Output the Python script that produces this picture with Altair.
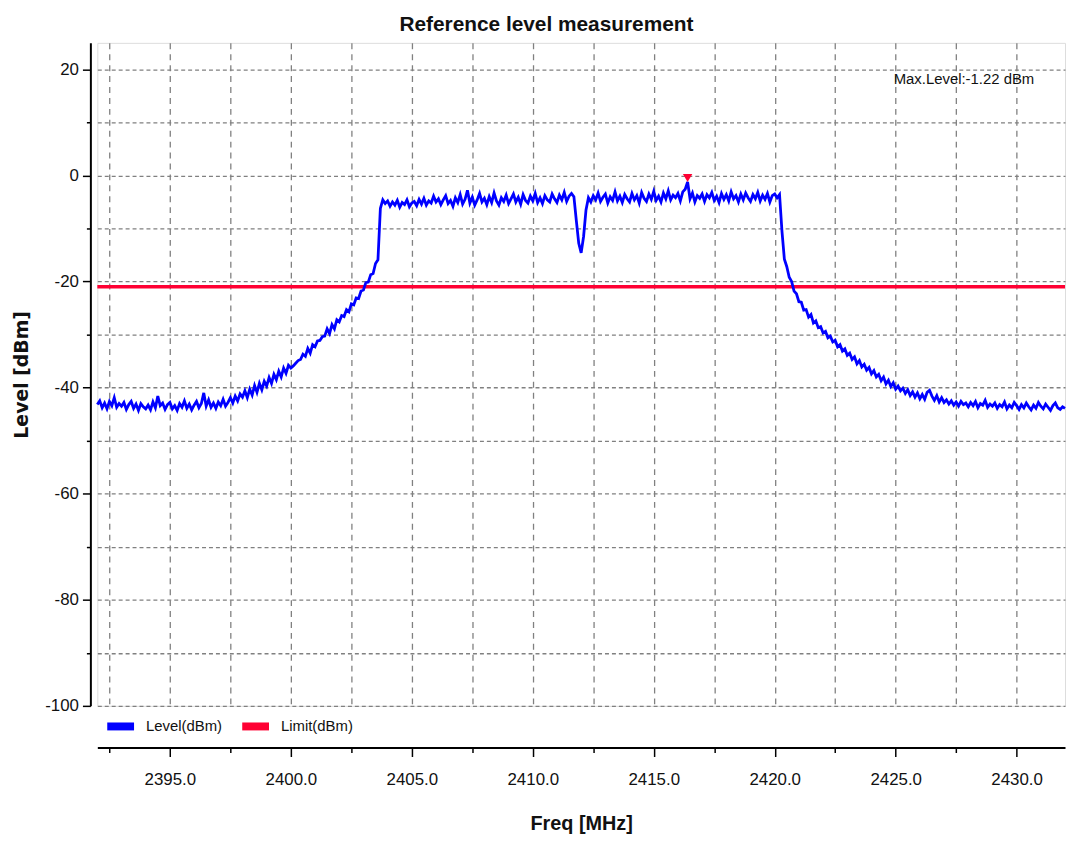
import altair as alt
import pandas as pd
import numpy as np

# ---------------- data ----------------
F_START = 2392.0   # first sweep frequency [MHz]
F_STEP = 0.1       # sweep step [MHz]

level = [
    # 2392
    -43.2, -42.5, -43.8, -42.9, -44.0, -42.6, -43.4, -41.9, -43.7, -43.0,
    # 2393
    -43.5, -42.8, -44.1, -43.2, -42.6, -43.9, -43.1, -44.3, -43.0, -43.6,
    # 2394
    -44.0, -43.3, -44.2, -42.7, -43.8, -41.6, -43.4, -42.9, -44.1, -43.2,
    # 2395
    -42.8, -44.0, -43.4, -44.3, -43.0, -43.7, -42.5, -43.9, -43.1, -44.2,
    # 2396
    -43.3, -42.6, -43.8, -43.0, -41.0, -43.5, -42.3, -43.7, -42.9, -43.9,
    # 2397
    -42.7, -43.4, -42.2, -43.5, -42.8, -41.9, -42.9, -41.6, -42.5, -41.2,
    # 2398
    -41.8, -40.6, -41.9, -40.3, -41.4, -39.6, -40.9, -39.2, -40.4, -38.8,
    # 2399
    -39.7, -38.1, -39.2, -37.5, -38.5, -36.9, -38.0, -36.3, -37.3, -35.8,
    # 2400
    -36.3, -35.9, -35.4, -34.9, -34.7, -33.7, -34.1, -32.6, -33.5, -31.9,
    # 2401
    -32.3, -31.2, -31.1, -30.4, -30.3, -28.9, -29.8, -28.1, -28.9, -27.2,
    # 2402
    -27.6, -26.4, -26.6, -25.3, -25.7, -24.2, -24.4, -23.1, -23.2, -21.8,
    # 2403
    -21.6, -20.2, -20.1, -18.7, -18.5, -16.6, -15.9, -6.2, -4.6, -5.3,
    # 2404
    -4.8, -5.8, -5.0, -5.6, -4.7, -6.0, -5.1, -5.5, -4.6, -5.9,
    # 2405
    -5.2, -4.9, -5.7, -4.5, -5.4, -4.3, -5.6, -4.8, -5.2, -3.9,
    # 2406
    -5.0, -4.4, -5.5, -4.6, -3.8, -5.3, -4.7, -5.8, -4.2, -5.1,
    # 2407
    -3.6, -5.4, -4.5, -2.8, -5.2, -4.1, -5.6, -4.6, -3.4, -5.0,
    # 2408
    -4.3, -5.5, -4.0, -5.1, -3.3, -4.8, -5.6, -4.2, -4.9, -3.7,
    # 2409
    -5.3, -4.4, -3.5, -5.0, -4.1, -5.4, -3.6, -4.7, -5.2, -3.9,
    # 2410
    -4.8, -3.4, -5.1, -4.2, -5.3, -3.8, -4.6, -5.0, -3.5, -4.4,
    # 2411
    -5.1, -3.7, -4.6, -3.2, -4.9, -3.9, -3.4, -4.0, -8.5, -12.8,
    # 2412
    -14.6, -11.5, -6.5, -4.2, -5.0, -3.8, -4.6, -3.3, -4.9, -4.1,
    # 2413
    -3.5, -5.2, -4.0, -4.7, -3.1, -4.8, -3.9, -5.1, -3.6, -4.4,
    # 2414
    -5.0, -3.4, -4.6, -3.8, -5.2, -3.2, -4.3, -4.9, -3.5, -4.5,
    # 2415
    -3.0, -4.7, -3.9, -5.0, -3.3, -4.4, -2.9, -4.6, -3.7, -4.2,
    # 2416
    -3.4, -4.8, -3.1, -2.6, -1.22, -4.4, -3.3, -5.0, -3.8, -4.3,
    # 2417
    -3.5, -4.9, -3.6, -4.2, -3.2, -4.7, -3.9, -5.1, -3.4, -4.5,
    # 2418
    -3.6, -4.8, -3.1, -4.4, -3.8, -5.0, -3.5, -4.6, -3.3, -4.2,
    # 2419
    -4.9, -3.6, -4.4, -3.2, -4.8, -3.7, -4.5, -3.4, -5.0, -3.8,
    # 2420
    -3.5, -4.2, -3.6, -10.5, -15.8, -17.2, -19.2, -20.0, -21.8, -22.3,
    # 2421
    -23.8, -23.9, -25.4, -25.3, -26.7, -26.2, -27.8, -27.4, -28.7, -28.5,
    # 2422
    -29.7, -29.4, -30.6, -30.3, -31.4, -31.1, -32.3, -31.9, -33.1, -32.7,
    # 2423
    -33.9, -33.5, -34.7, -34.2, -35.5, -34.9, -36.1, -35.6, -36.7, -36.2,
    # 2424
    -37.4, -36.8, -38.0, -37.5, -38.7, -38.0, -39.3, -38.6, -39.8, -39.1,
    # 2425
    -40.3, -39.7, -40.6, -40.1, -41.1, -40.4, -41.5, -40.8, -41.8, -41.0,
    # 2426
    -42.1, -41.3, -42.2, -40.9, -40.5, -41.6, -42.4, -41.5, -42.7, -41.9,
    # 2427
    -42.8, -42.3, -43.1, -42.5, -43.3, -42.7, -43.5, -42.6, -43.2, -42.9,
    # 2428
    -43.6, -42.8, -43.4, -42.6, -43.8, -43.0, -43.3, -42.4, -43.7, -43.1,
    # 2429
    -43.5, -42.9, -43.9, -43.2, -43.6, -42.7, -44.0, -43.3, -43.8, -42.8,
    # 2430
    -43.4, -44.1, -43.2, -43.8, -42.9, -43.6, -44.2, -43.3, -43.9, -42.8,
    # 2431
    -43.5, -44.0, -43.1, -43.7, -44.3, -43.4, -42.9, -43.8, -44.1, -43.6,
    # 2432
    -43.9,
]

LIMIT = -21.0
series_names = ["Level(dBm)", "Limit(dBm)"]
series_colors = ["#0000ff", "#ff0033"]

x_domain = [2392.0, 2432.0]
y_domain = [-100, 25]
x_ticks = [2392.5, 2395.0, 2397.5, 2400.0, 2402.5, 2405.0, 2407.5, 2410.0,
           2412.5, 2415.0, 2417.5, 2420.0, 2422.5, 2425.0, 2427.5, 2430.0]
y_ticks = [-100, -90, -80, -70, -60, -50, -40, -30, -20, -10, 0, 10, 20]

# ---------------- tables ----------------
freq = [round(F_START + i * F_STEP, 1) for i in range(len(level))]
df = pd.DataFrame({"freq": freq, "level": level, "series": series_names[0]})
lim_df = pd.DataFrame({"freq": x_domain, "level": [LIMIT, LIMIT], "series": series_names[1]})
imax = int(np.argmax(level))
peak_df = pd.DataFrame({"freq": [freq[imax]], "level": [level[imax]]})
max_text = f"Max.Level:{level[imax]:.2f} dBm"

SANS = "Liberation Sans, Arial, sans-serif"
BOLDWIDE = "DejaVu Sans, Verdana, sans-serif"

xscale = alt.Scale(domain=x_domain, nice=False, zero=False)
yscale = alt.Scale(domain=y_domain, nice=False, zero=False)

x_axis = alt.Axis(
    values=x_ticks,
    labelExpr="datum.value % 5 === 0 ? format(datum.value, '.1f') : ''",
    offset=42,
    domainColor="#000000", domainWidth=2,
    tickColor="#000000", tickWidth=1.5,
    tickSize={"condition": {"test": "datum.value % 5 === 0", "value": 9}, "value": 5},
    grid=True, gridColor="#808080", gridDash=[6, 5], gridWidth=1.3,
    labelFont=SANS, labelFontSize=17, labelColor="#111111", labelPadding=15,
    labelFlush=False, labelOverlap=False,
    title="Freq [MHz]", titleFont=SANS, titleFontSize=20, titleFontWeight="bold",
    titleColor="#111111", titlePadding=27,
)
y_axis = alt.Axis(
    values=y_ticks,
    labelExpr="datum.value % 20 === 0 ? '' + datum.value : ''",
    offset=7,
    domainColor="#000000", domainWidth=2,
    tickColor="#000000", tickWidth=1.5,
    tickSize={"condition": {"test": "datum.value % 20 === 0", "value": 8}, "value": 4},
    grid=True, gridColor="#808080", gridDash=[4, 3], gridWidth=1.3,
    labelFont=SANS, labelFontSize=17, labelColor="#111111", labelPadding=4,
    labelFlush=False, labelOverlap=False,
    title="Level [dBm]", titleFont=BOLDWIDE, titleFontSize=19, titleFontWeight="bold",
    titleColor="#111111", titlePadding=13,
)

color = alt.Color(
    "series:N",
    scale=alt.Scale(domain=series_names, range=series_colors),
    legend=alt.Legend(
        title=None, orient="none", direction="horizontal",
        legendX=6, legendY=671, padding=0,
        symbolType="stroke", symbolSize=729, symbolStrokeWidth=8,
        labelFont=SANS, labelFontSize=15, labelColor="#111111",
        labelOffset=8, columnPadding=4,
    ),
)

limit_line = alt.Chart(lim_df).mark_line(strokeWidth=3.5).encode(
    x=alt.X("freq:Q", scale=xscale, axis=x_axis),
    y=alt.Y("level:Q", scale=yscale, axis=y_axis),
    color=color,
)
level_line = alt.Chart(df).mark_line(strokeWidth=2.8).encode(
    x=alt.X("freq:Q", scale=xscale),
    y=alt.Y("level:Q", scale=yscale),
    color=color,
)
peak = alt.Chart(peak_df).mark_point(
    shape="triangle-down", filled=True, color="#ff0033", size=90, opacity=1
).encode(
    x=alt.X("freq:Q", scale=xscale),
    y=alt.Y("level:Q", scale=yscale),
    yOffset=alt.value(-4),
)
max_label = alt.Chart(peak_df).mark_text(
    align="right", baseline="middle", font=SANS, fontSize=15, color="#111111"
).encode(
    x=alt.value(944), y=alt.value(36), text=alt.value(max_text)
)

chart = alt.layer(limit_line, level_line, peak, max_label).properties(
    width=975, height=668,
    padding={"left": 90, "top": 32, "right": 1, "bottom": 130},
    autosize=alt.AutoSizeParams(type="none"),
    title=alt.TitleParams(
        "Reference level measurement", font=SANS, fontSize=21,
        fontWeight="bold", color="#111111", anchor="middle", dx=-35, offset=8,
    ),
).configure_view(
    stroke="#999999", strokeWidth=2
).configure(background="white")

chart.save("out.html", embed_options={"renderer": "svg", "actions": False})
